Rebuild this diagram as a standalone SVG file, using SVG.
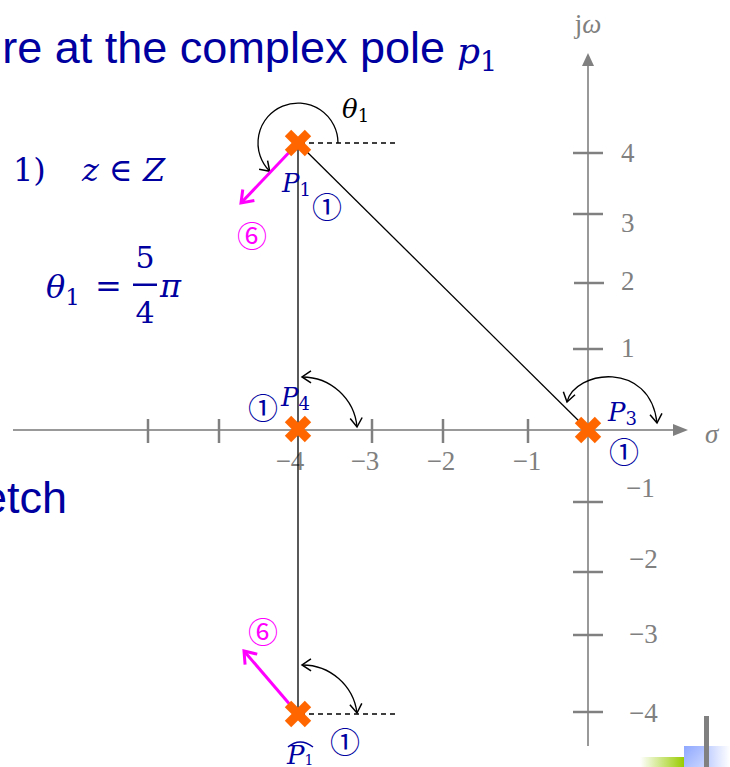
<svg xmlns="http://www.w3.org/2000/svg" width="730" height="767" viewBox="0 0 730 767">
<style>
.t{font-family:"Liberation Sans",Arial,sans-serif;fill:#0000A0;font-size:45px}
.m{font-family:"DejaVu Serif","Liberation Serif",serif;fill:#0000A0}
.ax{stroke:#999;stroke-width:2;fill:none}
.tk{stroke:#808080;stroke-width:2.5}
.al{font-family:"Liberation Serif","DejaVu Serif",serif;fill:#808080;font-size:27px}
.pl{font-family:"DejaVu Serif","Liberation Serif",serif;fill:#0000A0;font-style:italic;font-size:26px}
.cb{font-family:"Noto Sans CJK SC","DejaVu Sans",sans-serif;font-size:30px;fill:#0000A0}
.cm{font-family:"Noto Sans CJK SC","DejaVu Sans",sans-serif;font-size:30px;fill:#FF00FF}
.x{stroke:#FF6600;stroke-width:9}
.blk{stroke:#000;stroke-width:1.3;fill:none}
.dash{stroke:#000;stroke-width:1.3;stroke-dasharray:5 4}
.mag{stroke:#FF00FF;stroke-width:3;fill:none}
</style>
<defs>
<marker id="ah" markerUnits="userSpaceOnUse" markerWidth="20" markerHeight="20" refX="0" refY="0" viewBox="-12 -10 14 20" orient="auto-start-reverse">
<path d="M-9,-6 L0,0 L-9,6" fill="none" stroke="#000" stroke-width="1.5"/>
</marker>
<marker id="mh" markerUnits="userSpaceOnUse" markerWidth="24" markerHeight="24" refX="0" refY="0" viewBox="-14 -12 16 24" orient="auto">
<path d="M-11,-8 L0,0 L-11,8" fill="none" stroke="#FF00FF" stroke-width="3"/>
</marker>
<linearGradient id="gg" x1="0" y1="0" x2="1" y2="0">
<stop offset="0" stop-color="#99CC00" stop-opacity="0"/>
<stop offset="1" stop-color="#99CC00"/>
</linearGradient>
<linearGradient id="bg" x1="0" y1="0" x2="1" y2="1">
<stop offset="0" stop-color="#8FA8FF"/>
<stop offset="1" stop-color="#C8D4FF"/>
</linearGradient>
<linearGradient id="bg2" x1="0" y1="0" x2="1" y2="0">
<stop offset="0" stop-color="#C8D4FF"/>
<stop offset="1" stop-color="#C8D4FF" stop-opacity="0"/>
</linearGradient>
</defs>

<g id="slide-text">
<text class="t" x="445" y="63" text-anchor="end">re at the complex pole</text>
<text class="m" x="457" y="63" font-size="36" font-style="italic">p<tspan font-style="normal" font-size="27" dy="8">1</tspan></text>
<text class="m" x="13" y="181" font-size="32">1)</text>
<text class="m" x="82" y="181" font-size="32"><tspan font-style="italic">z</tspan> ∈ <tspan font-style="italic">Z</tspan></text>
<text class="m" x="46" y="298" font-size="32" font-style="italic">θ<tspan font-style="normal" font-size="23" dy="7">1</tspan></text>
<text class="m" x="95" y="297" font-size="32">=</text>
<rect x="133" y="283.5" width="24" height="2.5" fill="#0000A0"/>
<text class="m" x="145" y="268" font-size="30" text-anchor="middle">5</text>
<text class="m" x="145" y="323" font-size="30" text-anchor="middle">4</text>
<text class="m" x="160" y="297" font-size="32" font-style="italic">π</text>
<text class="t" x="67" y="513" text-anchor="end">etch</text>
</g>

<g id="axes">
<line class="ax" x1="13" y1="430" x2="676" y2="430"/>
<path d="M688,430 L673,424 L673,436 Z" fill="#808080"/>
<line class="ax" x1="588" y1="746" x2="588" y2="64"/>
<path d="M588,53 L582,66 L594,66 Z" fill="#808080"/>
<g class="tk">
<line x1="148" y1="419" x2="148" y2="443"/>
<line x1="219" y1="419" x2="219" y2="443"/>
<line x1="372" y1="419" x2="372" y2="443"/>
<line x1="443" y1="419" x2="443" y2="443"/>
<line x1="528" y1="419" x2="528" y2="443"/>
<line x1="573" y1="153" x2="603" y2="153"/>
<line x1="573" y1="214" x2="603" y2="214"/>
<line x1="574" y1="283" x2="604" y2="283"/>
<line x1="573" y1="349" x2="603" y2="349"/>
<line x1="573" y1="502" x2="603" y2="502"/>
<line x1="573" y1="572" x2="603" y2="572"/>
<line x1="573" y1="635" x2="603" y2="635"/>
<line x1="573" y1="712" x2="603" y2="712"/>
</g>
<text class="al" x="290" y="470" text-anchor="middle">−4</text>
<text class="al" x="365" y="470" text-anchor="middle">−3</text>
<text class="al" x="441" y="470" text-anchor="middle">−2</text>
<text class="al" x="527" y="470" text-anchor="middle">−1</text>
<text class="al" x="621" y="162">4</text>
<text class="al" x="621" y="232">3</text>
<text class="al" x="621" y="290">2</text>
<text class="al" x="621" y="357">1</text>
<text class="al" x="626" y="497">−1</text>
<text class="al" x="629" y="568">−2</text>
<text class="al" x="629" y="643">−3</text>
<text class="al" x="629" y="722">−4</text>
<text class="al" x="588" y="33" text-anchor="middle" font-size="24">j<tspan font-style="italic">ω</tspan></text>
<text class="al" x="705" y="443" font-style="italic" font-size="26">σ</text>
</g>

<g id="connectors">
<line class="blk" x1="298" y1="143" x2="298" y2="715"/>
<line class="blk" x1="298" y1="143" x2="588" y2="430"/>
<line class="dash" x1="300" y1="143" x2="395" y2="143"/>
<line class="dash" x1="300" y1="714" x2="399" y2="714"/>
<path class="blk" d="M338,143 A40,40 0 1 0 269.7,171.3" marker-end="url(#ah)"/>
<path class="blk" d="M302,377 A55,55 0 0 1 357,427" marker-start="url(#ah)" marker-end="url(#ah)"/>
<path class="blk" d="M302,665 A55,55 0 0 1 357,713" marker-start="url(#ah)" marker-end="url(#ah)"/>
<path class="blk" d="M567,402 C575,370 650,360 657,423" marker-start="url(#ah)" marker-end="url(#ah)"/>
<line class="mag" x1="298" y1="143" x2="241" y2="203" marker-end="url(#mh)"/>
<line class="mag" x1="298" y1="714" x2="244" y2="651" marker-end="url(#mh)"/>
</g>

<g id="P1">
<g class="x"><line x1="288" y1="133" x2="308" y2="153"/><line x1="308" y1="133" x2="288" y2="153"/></g>
<text class="pl" x="282" y="192">P<tspan font-style="normal" font-size="18" dy="4">1</tspan></text>
<text class="cb" x="327" y="218" text-anchor="middle">①</text>
<text class="cm" x="252" y="247" text-anchor="middle">⑥</text>
<text class="m" x="342" y="118" font-size="26" font-style="italic" style="fill:#000">θ<tspan font-style="normal" font-size="18" dy="4">1</tspan></text>
</g>

<g id="P4">
<g class="x"><line x1="288" y1="419" x2="308" y2="439"/><line x1="308" y1="419" x2="288" y2="439"/></g>
<text class="pl" x="281" y="406">P<tspan font-style="normal" font-size="18" dy="4">4</tspan></text>
<text class="cb" x="263" y="419" text-anchor="middle">①</text>
</g>

<g id="P3">
<g class="x"><line x1="578" y1="420" x2="598" y2="440"/><line x1="598" y1="420" x2="578" y2="440"/></g>
<text class="pl" x="608" y="421">P<tspan font-style="normal" font-size="18" dy="4">3</tspan></text>
<text class="cb" x="624" y="463" text-anchor="middle">①</text>
</g>

<g id="P1bar">
<g class="x"><line x1="288" y1="704" x2="308" y2="724"/><line x1="308" y1="704" x2="288" y2="724"/></g>
<path d="M288,747 Q300,737 313,747" fill="none" stroke="#0000A0" stroke-width="1.5"/>
<text class="pl" x="287" y="764" font-size="20">P<tspan font-style="normal" font-size="14" dy="1">1</tspan></text>
<text class="cb" x="345" y="753" text-anchor="middle">①</text>
<text class="cm" x="263" y="643" text-anchor="middle">⑥</text>
</g>

<g id="corner">
<rect x="640" y="757" width="44" height="10" fill="url(#gg)"/>
<rect x="684" y="746" width="20" height="21" fill="url(#bg)"/>
<rect x="709" y="746" width="21" height="21" fill="url(#bg2)"/>
<rect x="704" y="716" width="5" height="51" fill="#808080"/>
</g>
</svg>
